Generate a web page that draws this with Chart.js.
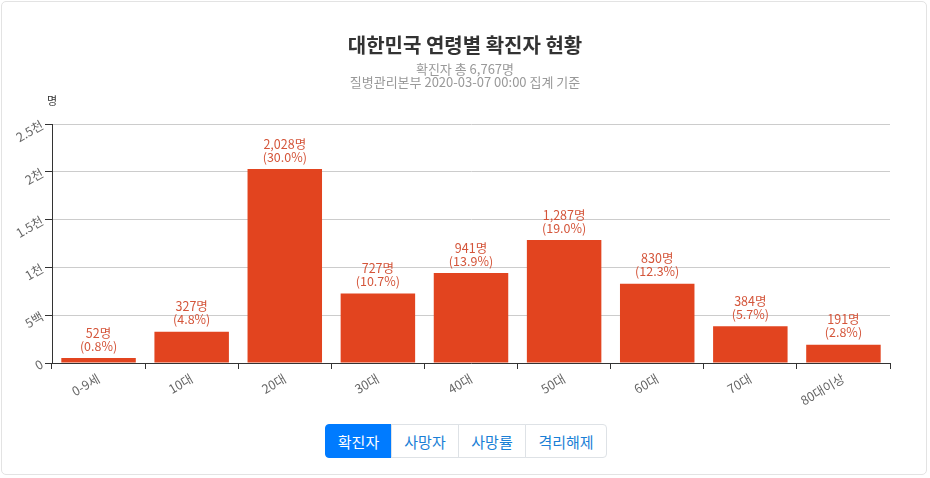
<!DOCTYPE html>
<html><head><meta charset="utf-8">
<script src="https://cdn.jsdelivr.net/npm/chart.js@4/dist/chart.umd.min.js"></script>
<style>
html,body{margin:0;padding:0;background:#fff;width:930px;height:478px;overflow:hidden;font-family:"Noto Sans CJK KR","Noto Sans",sans-serif}
#card{position:absolute;left:1px;top:1px;width:926px;height:474px;border:1px solid #e3e3e3;border-radius:5px;box-sizing:border-box}
#wrap{position:absolute;left:0;top:0;width:930px;height:410px}
#btns{position:absolute;left:325px;top:424px;display:flex;height:34px}
#btns button{font-family:"Noto Sans CJK KR",sans-serif;font-size:15px;height:34px;border:1px solid #dee2e6;background:#fff;color:#1a7fd6;padding:0;margin:0 0 0 -1px;cursor:pointer}
#btns button.on{background:#007bff;color:#fff;border-color:#007bff}
#btns button:first-child{border-radius:4px 0 0 4px;margin-left:0}
#btns button:last-child{border-radius:0 4px 4px 0}
</style></head>
<body>
<div id="card"></div>
<div id="wrap"><canvas id="c" width="930" height="410"></canvas></div>
<div id="btns">
<button class="on" style="width:67px">확진자</button><button style="width:68px">사망자</button><button style="width:68px">사망률</button><button style="width:82px">격리해제</button>
</div>
<script>
const categories = ["0-9세","10대","20대","30대","40대","50대","60대","70대","80대이상"];
const confirmed = [52,327,2028,727,941,1287,830,384,191];
const percents = ["0.8","4.8","30.0","10.7","13.9","19.0","12.3","5.7","2.8"];
const yTickLabels = {0:"0",500:"5백",1000:"1천",1500:"1.5천",2000:"2천",2500:"2.5천"};
const titleText = "대한민국 연령별 확진자 현황";
const subtitleLines = ["확진자 총 6,767명","질병관리본부 2020-03-07 00:00 집계 기준"];
const FONT = '"Noto Sans CJK KR","Noto Sans",sans-serif';

const labelPlugin = {
  id:'barLabels',
  afterDatasetsDraw(chart){
    const ctx = chart.ctx;
    const meta = chart.getDatasetMeta(0);
    ctx.save();
    ctx.font = '12.5px ' + FONT;
    ctx.fillStyle = '#d4553a';
    ctx.textAlign = 'center';
    ctx.textBaseline = 'middle';
    meta.data.forEach((bar,i)=>{
      ctx.fillText(confirmed[i].toLocaleString('en-US') + '명', bar.x, bar.y - 25);
      ctx.fillText('(' + percents[i] + '%)', bar.x, bar.y - 12);
    });
    const y = chart.scales.y;
    ctx.fillStyle = '#333';
    ctx.font = '11px ' + FONT;
    ctx.fillText('명', y.right, y.top - 23);
    ctx.restore();
  }
};

new Chart(document.getElementById('c'), {
  type:'bar',
  data:{labels:categories, datasets:[{data:confirmed, backgroundColor:'#e2441f', borderWidth:0, barPercentage:0.8, categoryPercentage:1}]},
  options:{
    responsive:false, animation:false,
    layout:{padding:{left:0,right:0,top:0,bottom:0}},
    plugins:{
      legend:{display:false}, tooltip:{enabled:false},
      title:{display:true, text:titleText, color:'#333', font:{family:FONT,size:20,weight:'bold',lineHeight:1.2}, padding:{top:33,bottom:0}},
      subtitle:{display:true, text:subtitleLines, color:'#999', font:{family:FONT,size:13,lineHeight:1.0}, padding:{top:6,bottom:35}}
    },
    scales:{
      x:{
        grid:{display:true, drawOnChartArea:false, drawTicks:true, tickLength:6, color:'#333', offset:true},
        border:{display:true,color:'#333',width:1},
        ticks:{color:'#666', font:{family:FONT,size:12.5}, minRotation:30, maxRotation:30, padding:2},
        afterFit(s){ s.height = 47; }
      },
      y:{
        min:0, max:2500,
        grid:{color:'#ccc', tickLength:7, drawTicks:true, tickColor:'#333'},
        border:{display:true,color:'#333',width:1},
        ticks:{stepSize:500, color:'#666', font:{family:FONT,size:12.5}, minRotation:30, padding:3,
          callback:(v)=>yTickLabels[v]},
        afterFit(s){ s.width = 52; }
      },
      yRight:{
        position:'right', display:true, min:0, max:2500,
        grid:{display:false}, border:{display:false}, ticks:{display:false},
        afterFit(s){ s.width = 40; }
      }
    }
  },
  plugins:[labelPlugin]
});
</script>
</body></html>
